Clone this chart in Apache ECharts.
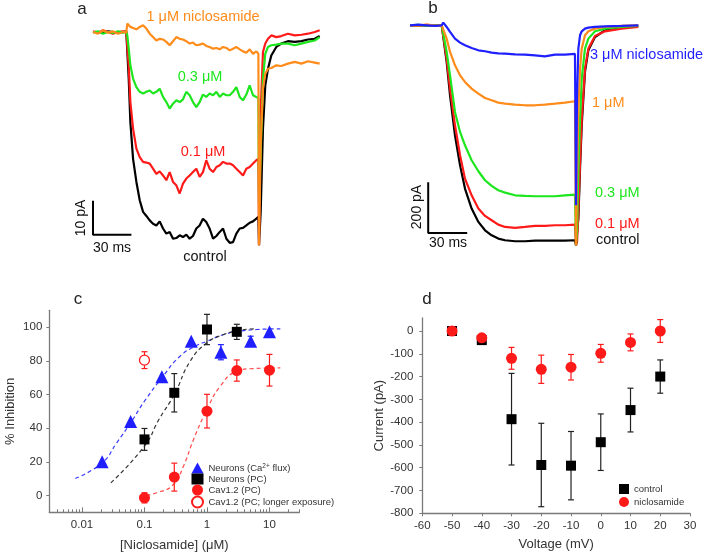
<!DOCTYPE html>
<html>
<head>
<meta charset="utf-8">
<script src="https://cdn.jsdelivr.net/npm/echarts@6/dist/echarts.min.js"></script>
<style>
html,body{margin:0;padding:0;background:#fff;}
#chart{width:707px;height:553px;}
</style>
</head>
<body>
<div id="chart"></div>
<script>
// ---------- Panel a: Ca2+ current traces in neurons (time in ms, current in pA) ----------
const tA = [0,3.9,7.8,11.7,15.6,19.5,23.4,26.0,26.8,27.9,29.2,31.3,33.9,36.5,39.1,41.7,44.3,46.9,49.5,52.1,54.7,57.3,59.9,62.5,65.1,67.7,70.3,72.9,75.5,78.1,80.7,83.3,85.9,88.5,91.1,93.8,96.4,99.0,101.6,104.2,106.8,109.4,112.0,114.6,117.2,119.8,122.4,125.0,127.6,129.2,129.7,131.0,132.8,134.6,136.7,139.3,143.2,147.1,152.3,157.6,162.8,168.0,173.2,177.1];
const aControl = [0,0,-0.2,0.2,0,-0.2,0,0.2,0,-13.7,-26.5,-37.3,-44.1,-49.5,-52.9,-54.1,-55.4,-56.4,-56.9,-55.7,-57.8,-59.3,-58.8,-60.8,-60.6,-59.8,-60.3,-59.6,-60.8,-60.0,-57.8,-56.9,-54.9,-55.9,-57.8,-60.8,-60.0,-58.8,-57.8,-60.8,-62.0,-61.8,-59.3,-57.8,-57.6,-56.9,-56.1,-55.7,-54.9,-54.4,-62.7,-52.9,-28.4,-15.7,-10.8,-6.9,-4.4,-3.4,-2.7,-2.9,-2.7,-2.2,-2.0,-1.2];
const a01uM = [0.2,-0.2,0.5,0,-0.5,0,0.2,0,0,-9.8,-20.6,-28.4,-34.3,-36.8,-38.2,-38.4,-38.7,-40.2,-41.7,-41.0,-42.2,-43.6,-41.2,-44.1,-45.1,-47.5,-44.6,-43.1,-42.2,-41.2,-40.2,-42.6,-41.2,-37.7,-40.2,-41.2,-39.7,-39.2,-38.2,-38.7,-38.7,-39.2,-40.2,-41.2,-42.2,-40.2,-39.7,-38.7,-37.7,-37.3,-62.7,-23.5,-5.9,-3.4,-2.0,-1.0,-1.5,-1.2,-0.5,-1.0,-0.8,-0.5,0,0.5];
const a03uM = [-0.2,0.2,-0.5,0,-0.3,0.2,-0.2,0,-1.0,-4.9,-9.8,-13.7,-16.2,-17.6,-18.1,-17.6,-17.2,-18.1,-17.6,-16.7,-19.1,-20.6,-22.5,-21.1,-20.1,-20.6,-19.8,-17.6,-18.6,-20.6,-22.1,-20.6,-18.4,-19.1,-18.1,-18.6,-17.6,-19.1,-18.1,-18.6,-18.6,-17.6,-16.2,-19.1,-20.1,-18.4,-15.7,-18.6,-19.1,-19.4,-51.0,-35.3,-13.7,-6.4,-4.4,-3.9,-3.7,-3.4,-3.4,-3.9,-3.4,-2.9,-2.5,-1.5];
const a1uM = [0.0,-0.5,0.5,-0.2,0.2,-0.5,0.0,-0.2,2.5,2.0,1.5,1.2,0.8,1.5,2.0,1.0,-0.5,-1.5,-2.5,-2.0,-2.2,-2.9,-3.9,-2.7,-1.5,-2.0,-2.2,-2.7,-3.4,-3.1,-3.9,-3.7,-3.4,-4.1,-4.4,-4.9,-4.7,-5.1,-4.4,-4.7,-5.4,-4.9,-4.4,-5.1,-5.7,-6.1,-5.1,-6.4,-5.7,-6.4,-62.7,-33.3,-16.7,-12.3,-10.8,-10.6,-9.8,-10.0,-9.3,-8.8,-9.3,-8.6,-9.0,-9.3];
const aScaleBar = [[0,-49.6],[0,-59.6],[30,-59.6]]; // 10 pA / 30 ms

// ---------- Panel b: Cav1.2 current traces ----------
const tB = [0,6.4,12.8,19.2,24.4,25.6,28.2,30.8,34.6,38.5,42.3,47.4,52.6,57.7,62.8,67.9,73.1,80.8,88.5,96.2,103.8,111.5,119.2,126.9,127.7,128.5,129.5,130.8,132.1,134.6,137.2,142.3,150.0,162.8,175.6];
const bControl = [0,0,0,0,0,5.3,-144.8,-276.4,-434.3,-552.7,-644.8,-723.8,-776.4,-809.3,-829.1,-842.2,-848.8,-852.7,-852.7,-850.1,-850.1,-850.1,-850.1,-848.8,-868.6,-862.0,-763.3,-565.9,-394.8,-184.2,-98.7,-46.1,-19.7,-6.6,-2.6];
const b01uM = [0,-1.3,1.3,0,-1.3,2.6,-131.6,-250.0,-394.8,-513.2,-605.4,-671.2,-723.8,-752.8,-769.9,-787.0,-796.2,-800.1,-796.2,-792.2,-792.2,-789.6,-789.6,-787.0,-868.6,-855.4,-737.0,-539.6,-368.5,-171.1,-92.1,-42.1,-23.7,-13.2,-6.6];
const b03uM = [0,1.3,-1.3,0,0,2.6,-105.3,-197.4,-342.2,-421.1,-473.8,-533.0,-576.4,-611.9,-634.3,-651.4,-660.6,-671.2,-673.8,-675.1,-675.1,-675.1,-671.2,-668.5,-868.6,-802.8,-579.0,-368.5,-210.6,-92.1,-52.6,-23.7,-13.2,-6.6,-2.6];
const b1uM = [0,0,2.6,-1.3,0,6.6,-52.6,-105.3,-157.9,-197.4,-223.7,-250.0,-269.8,-286.9,-296.1,-305.3,-309.3,-313.2,-315.8,-315.8,-313.2,-309.3,-305.3,-300.0,-868.6,-605.4,-342.2,-171.1,-92.1,-39.5,-23.7,-13.2,-6.6,-2.6,0];
const b3uM = [0,2.6,0,-2.6,0,10.5,-6.6,-26.3,-52.6,-68.4,-78.9,-89.5,-98.7,-102.6,-107.9,-110.5,-111.9,-114.5,-115.8,-118.4,-122.4,-115.8,-115.8,-113.2,-710.6,-276.4,-92.1,-39.5,-23.7,-13.2,-9.2,-6.6,-3.9,-2.6,0];
const bScaleBar = [[14,-620],[14,-820],[44,-820]]; // 200 pA / 30 ms

// ---------- Panel c: concentration-response (µM, % inhibition) ----------
const cTriConc = [0.021,0.06,0.19,0.56,1.67,5.0,10];
const cTriInh  = [20,44,70.5,91.6,85.1,91.6,97.2];
const cTriErr  = [0,0,0,0,4.5,3,0];
const cSqConc = [0.1,0.3,1,3];
const cSqInh  = [33.3,61,98.6,97.2];
const cSqErr  = [6.5,11.4,9,4.5];
const cCirConc = [0.1,0.3,1,3,10];
const cCirInh  = [-1.4,10.9,50.1,74.2,74.4];
const cCirErr  = [3,8.3,10,6.3,9.4];
const cOpenConc = [0.1];
const cOpenInh  = [80.4];
const cOpenErr  = [5];
const cFitBlueConc = [0.0078,0.021,0.036,0.06,0.1,0.19,0.37,0.69,1,1.85,3.4,6.3,14.9];
const cFitBlueInh  = [10.1,19.4,31.3,43.2,56,69.9,82.7,89.2,91.6,95.6,97.6,98.6,99];
const cFitBlackConc = [0.029,0.1,0.17,0.3,0.54,1,1.85,3.4,5.6];
const cFitBlackInh  = [7.5,29.3,45.1,60,79.8,90.7,95.6,98.2,99];
const cFitRedConc = [0.083,0.158,0.29,0.42,0.61,1,1.63,3.0,5.6,14.9];
const cFitRedInh  = [-0.4,1.6,6.5,17.4,33.3,51.1,64.9,73.8,75.4,75.8];
const cMajorTicks = [0.01,0.1,1,10];
const cMajorLabels = ['0.01','0.1','1','10'];
const cMinorTicks = [0.003,0.004,0.005,0.006,0.007,0.008,0.009,0.02,0.03,0.04,0.05,0.06,0.07,0.08,0.09,0.2,0.3,0.4,0.5,0.6,0.7,0.8,0.9,2,3,4,5,6,7,8,9,20,30];
const cYTicks = [0,20,40,60,80,100];

// ---------- Panel d: I-V relationship ----------
const dVoltage = [-50,-40,-30,-20,-10,0,10,20];
const dControl = [0,-40,-387,-588,-591,-488,-347,-200];
const dControlErr = [4,6,201,183,150,124,96,73];
const dNiclo = [0,-30,-120,-168,-159,-98,-50,0];
const dNicloErr = [18,8,48,62,56,39,37,50];
const dYTicks = [0,-100,-200,-300,-400,-500,-600,-700,-800];

// ---------- styling ----------
const FONT = "'Liberation Sans', Arial, sans-serif";
const ORANGE = '#ff8c1a', GREEN = '#1ee61e', RED = '#ff1a1a', BLUE = '#1f1fff', BLACK = '#000000';
const AXIS = '#7a7a7a';
const lg = Math.log10;

const zip = (xs, ys) => xs.map((x, i) => [x, ys[i]]);
const zipLog = (xs, ys) => xs.map((x, i) => [lg(x), ys[i]]);

function trace(name, xi, t, v, color, z) {
  return { name, type: 'line', xAxisIndex: xi, yAxisIndex: xi, data: zip(t, v),
    showSymbol: false, symbol: 'none', lineStyle: { color, width: 2.2 }, z, silent: true };
}
function scaleBar(xi, pts) {
  return { type: 'line', xAxisIndex: xi, yAxisIndex: xi, data: pts, symbol: 'none',
    lineStyle: { color: '#000', width: 2 }, z: 5, silent: true };
}
function errBars(xi, yi, pts, color, cap) {
  return {
    type: 'custom', xAxisIndex: xi, yAxisIndex: yi, silent: true, z: 2,
    data: pts,
    renderItem: function (params, api) {
      const x = api.value(0), lo = api.value(1), hi = api.value(2);
      const a = api.coord([x, hi]), b = api.coord([x, lo]);
      const st = { stroke: color, lineWidth: 1.2 };
      return { type: 'group', children: [
        { type: 'line', shape: { x1: a[0], y1: a[1], x2: b[0], y2: b[1] }, style: st },
        { type: 'line', shape: { x1: a[0] - cap, y1: a[1], x2: a[0] + cap, y2: a[1] }, style: st },
        { type: 'line', shape: { x1: b[0] - cap, y1: b[1], x2: b[0] + cap, y2: b[1] }, style: st }
      ]};
    }
  };
}
const errData = (xs, ys, es, f) => xs.map((x, i) => [f ? f(x) : x, ys[i] - es[i], ys[i] + es[i]]).filter((d, i) => es[i] > 0);

function txt(text, x, y, color, size, align, rot) {
  const s = { text, x: 0, y: 0, fill: color, font: size + 'px ' + FONT,
    textAlign: align || 'center', align: align || 'center',
    textVerticalAlign: 'middle', verticalAlign: 'middle' };
  return { type: 'text', x, y, rotation: rot || 0, style: s, silent: true, z: 10 };
}

const hidden = { show: false };
const tickLabel = { color: '#333', fontSize: 11.5, fontFamily: FONT };
const nameStyle = { color: '#333', fontSize: 13, fontFamily: FONT };

const option = {
  animation: false,
  backgroundColor: '#fff',
  grid: [
    { left: 93, top: 11.6, width: 230.4, height: 238, containLabel: false, outerBoundsMode: 'none' },
    { left: 410, top: 10.1, width: 234, height: 240.6, containLabel: false, outerBoundsMode: 'none' },
    { left: 49.3, top: 310.3, width: 250, height: 202, containLabel: false, outerBoundsMode: 'none' },
    { left: 422.3, top: 318, width: 267.7, height: 195.3, containLabel: false, outerBoundsMode: 'none' }
  ],
  xAxis: [
    { gridIndex: 0, type: 'value', min: 0, max: 180, show: false },
    { gridIndex: 1, type: 'value', min: 0, max: 180, show: false },
    { gridIndex: 2, type: 'value', min: lg(0.003), max: lg(30), position: 'bottom',
      axisLine: { onZero: false, lineStyle: { color: AXIS, width: 1.3 } },
      axisTick: { inside: true, length: 5, lineStyle: { color: AXIS }, customValues: cMajorTicks.map(lg) },
      axisLabel: Object.assign({ margin: 7, customValues: cMajorTicks.map(lg),
        formatter: v => cMajorLabels[cMajorTicks.findIndex(t => Math.abs(lg(t) - v) < 1e-6)] || '' }, tickLabel),
      splitLine: hidden,
      name: '[Niclosamide] (\u03bcM)', nameLocation: 'middle', nameGap: 27, nameTextStyle: nameStyle },
    { gridIndex: 2, type: 'value', min: lg(0.003), max: lg(30), position: 'bottom',
      axisLine: { show: false, onZero: false }, axisLabel: hidden, splitLine: hidden,
      axisTick: { inside: true, length: 3, lineStyle: { color: AXIS }, customValues: cMinorTicks.map(lg) } },
    { gridIndex: 3, type: 'value', min: -60, max: 30, interval: 10,
      axisLine: { onZero: false, lineStyle: { color: AXIS, width: 1.3 } },
      axisTick: { length: 3, lineStyle: { color: AXIS } },
      axisLabel: Object.assign({ margin: 7 }, tickLabel), splitLine: hidden,
      name: 'Voltage (mV)', nameLocation: 'middle', nameGap: 25, nameTextStyle: nameStyle }
  ],
  yAxis: [
    { gridIndex: 0, type: 'value', min: -64, max: 6, show: false },
    { gridIndex: 1, type: 'value', min: -890, max: 60, show: false },
    { gridIndex: 2, type: 'value', min: -10, max: 110,
      axisLine: { show: true, onZero: false, lineStyle: { color: AXIS, width: 1.3 } },
      axisTick: { show: true, length: 3, lineStyle: { color: AXIS }, customValues: cYTicks },
      axisLabel: Object.assign({ margin: 7, customValues: cYTicks }, tickLabel), splitLine: hidden,
      name: '% Inhibition', nameLocation: 'middle', nameGap: 32, nameTextStyle: nameStyle },
    { gridIndex: 3, type: 'value', min: -800, max: 57,
      axisLine: { show: true, onZero: false, lineStyle: { color: AXIS, width: 1.3 } },
      axisTick: { show: true, length: 3, lineStyle: { color: AXIS }, customValues: dYTicks },
      axisLabel: Object.assign({ margin: 9, customValues: dYTicks }, tickLabel), splitLine: hidden,
      name: 'Current (pA)', nameLocation: 'middle', nameGap: 34, nameTextStyle: nameStyle }
  ],
  legend: [
    { left: 186, top: 457.5, orient: 'vertical', itemWidth: 12, itemHeight: 11, itemGap: 0,
      selectedMode: false,
      data: ['Neurons (Ca2+ flux)', 'Neurons (PC)', 'Cav1.2 (PC)', 'Cav1.2 (PC; longer exposure)'],
      formatter: n => n === 'Neurons (Ca2+ flux)' ? '{t|Neurons (Ca}{s|2+}{t| flux)}' : '{t|' + n + '}',
      textStyle: { color: '#333', fontSize: 9.5, fontFamily: FONT,
        rich: { t: { fontSize: 9.5, fontFamily: FONT, color: '#333', lineHeight: 11 },
                s: { fontSize: 6.5, fontFamily: FONT, color: '#333', verticalAlign: 'top', lineHeight: 7 } } } },
    { left: 614, top: 479, orient: 'vertical', itemWidth: 10, itemHeight: 10, itemGap: 3,
      selectedMode: false, data: ['control', 'niclosamide'],
      textStyle: { color: '#333', fontSize: 9.5, fontFamily: FONT } }
  ],
  series: [
    // panel a
    trace('a-control', 0, tA, aControl, BLACK, 3),
    trace('a-0.1', 0, tA, a01uM, RED, 4),
    trace('a-0.3', 0, tA, a03uM, GREEN, 5),
    trace('a-1', 0, tA, a1uM, ORANGE, 6),
    scaleBar(0, aScaleBar),
    // panel b
    trace('b-control', 1, tB, bControl, BLACK, 3),
    trace('b-0.1', 1, tB, b01uM, RED, 4),
    trace('b-0.3', 1, tB, b03uM, GREEN, 5),
    trace('b-1', 1, tB, b1uM, ORANGE, 6),
    trace('b-3', 1, tB, b3uM, BLUE, 7),
    scaleBar(1, bScaleBar),
    // panel c fits
    { type: 'line', xAxisIndex: 2, yAxisIndex: 2, data: zipLog(cFitBlueConc, cFitBlueInh), smooth: true, symbol: 'none',
      lineStyle: { color: '#3a3aff', width: 1.2, type: [4, 3] }, z: 1, silent: true },
    { type: 'line', xAxisIndex: 2, yAxisIndex: 2, data: zipLog(cFitBlackConc, cFitBlackInh), smooth: true, symbol: 'none',
      lineStyle: { color: '#333', width: 1.2, type: [4, 3] }, z: 1, silent: true },
    { type: 'line', xAxisIndex: 2, yAxisIndex: 2, data: zipLog(cFitRedConc, cFitRedInh), smooth: true, symbol: 'none',
      lineStyle: { color: '#ff4d4d', width: 1.2, type: [4, 3] }, z: 1, silent: true },
    errBars(2, 2, errData(cTriConc, cTriInh, cTriErr, lg), BLUE, 3),
    errBars(2, 2, errData(cSqConc, cSqInh, cSqErr, lg), '#222', 3),
    errBars(2, 2, errData(cCirConc, cCirInh, cCirErr, lg), RED, 3),
    errBars(2, 2, errData(cOpenConc, cOpenInh, cOpenErr, lg), RED, 3),
    { name: 'Neurons (Ca2+ flux)', type: 'scatter', xAxisIndex: 2, yAxisIndex: 2, data: zipLog(cTriConc, cTriInh),
      symbol: 'triangle', symbolSize: 13, itemStyle: { color: BLUE, opacity: 1 }, z: 4 },
    { name: 'Neurons (PC)', type: 'scatter', xAxisIndex: 2, yAxisIndex: 2, data: zipLog(cSqConc, cSqInh),
      symbol: 'rect', symbolSize: 10, itemStyle: { color: BLACK, opacity: 1 }, z: 4 },
    { name: 'Cav1.2 (PC)', type: 'scatter', xAxisIndex: 2, yAxisIndex: 2, data: zipLog(cCirConc, cCirInh),
      symbol: 'circle', symbolSize: 11, itemStyle: { color: RED, opacity: 1 }, z: 4 },
    { name: 'Cav1.2 (PC; longer exposure)', type: 'scatter', xAxisIndex: 2, yAxisIndex: 2, data: zipLog(cOpenConc, cOpenInh),
      symbol: 'circle', symbolSize: 10, itemStyle: { color: '#fff', borderColor: RED, borderWidth: 1.3, opacity: 1 }, z: 4 },
    // panel d
    errBars(4, 3, errData(dVoltage, dControl, dControlErr), '#222', 3),
    errBars(4, 3, errData(dVoltage, dNiclo, dNicloErr), RED, 3),
    { name: 'control', type: 'scatter', xAxisIndex: 4, yAxisIndex: 3, data: zip(dVoltage, dControl),
      symbol: 'rect', symbolSize: 10, itemStyle: { color: BLACK, opacity: 1 }, z: 4 },
    { name: 'niclosamide', type: 'scatter', xAxisIndex: 4, yAxisIndex: 3, data: zip(dVoltage, dNiclo),
      symbol: 'circle', symbolSize: 11, itemStyle: { color: RED, opacity: 1 }, z: 5 }
  ],
  graphic: [
    txt('a', 82, 9, '#222', 17),
    txt('b', 433, 8, '#222', 17),
    txt('c', 78, 299, '#222', 17),
    txt('d', 427, 299, '#222', 17),
    // panel a labels
    txt('1 \u03bcM niclosamide', 203, 17, ORANGE, 14.5),
    txt('0.3 \u03bcM', 200, 77, GREEN, 14.5),
    txt('0.1 \u03bcM', 203, 152, RED, 14.5),
    txt('control', 205, 257, '#111', 14.5),
    txt('10 pA', 81, 218, '#111', 14, 'center', Math.PI / 2),
    txt('30 ms', 112, 248, '#111', 14),
    // panel b labels
    txt('3 \u03bcM niclosamide', 590, 55, BLUE, 14.5, 'left'),
    txt('1 \u03bcM', 592, 103, ORANGE, 14.5, 'left'),
    txt('0.3 \u03bcM', 595, 193, GREEN, 14.5, 'left'),
    txt('0.1 \u03bcM', 595, 224, RED, 14.5, 'left'),
    txt('control', 596, 240, '#111', 14.5, 'left'),
    txt('200 pA', 417, 207, '#111', 14, 'center', Math.PI / 2),
    txt('30 ms', 448, 243, '#111', 14)
  ]
};

const chart = echarts.init(document.getElementById('chart'), null, { renderer: 'canvas' });
chart.setOption(option);
</script>
</body>
</html>
